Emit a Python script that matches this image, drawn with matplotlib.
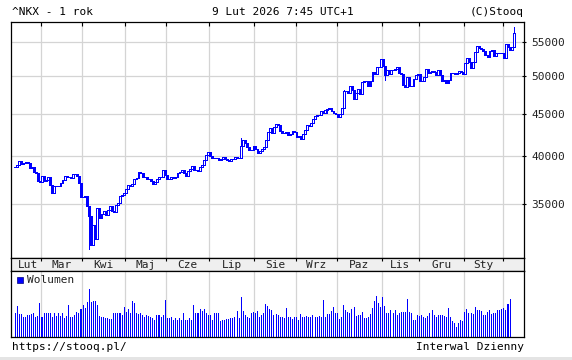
import matplotlib
matplotlib.use("Agg")
import matplotlib.pyplot as plt
from matplotlib.patches import Rectangle

# daily closes of ^NKX, one list per month
close_feb25 = [38801, 38963, 39461, 39149, 39174, 39270, 39164, 38678, 38776, 38237, 38142, 37256, 37155]
close_mar = [37785, 37331, 37418, 37705, 36887, 36028, 36793, 36819, 36790, 37053, 37397, 37846, 37752,
             37677, 37608, 38027, 38028, 37800, 37120, 35618]
close_apr = [35625, 35726, 34736, 33781, 31137, 33013, 31714, 34609, 33586, 33983, 34268, 33921, 34377,
             34730, 34280, 34221, 34869, 35040, 35706, 35840, 36046]
close_may = [36452, 36831, 36780, 36929, 37503, 37644, 38184, 38128, 37756, 37754, 37499, 37529, 37299,
             36986, 37160, 37532, 37724, 37722, 38433, 37965]
close_jun = [37471, 37447, 37747, 37555, 37742, 38089, 38212, 38421, 38174, 37834, 38311, 38537, 38885,
             38489, 38403, 38355, 38791, 38943, 39585, 40151, 40487]
close_jul = [39986, 39762, 39786, 39811, 39588, 39689, 39821, 39646, 39570, 39460, 39679, 39663, 39901,
             39819, 39775, 41171, 41826, 41456, 40998, 40675, 40655, 41070]
close_aug = [40800, 40291, 40549, 40795, 41059, 41820, 42718, 43275, 42650, 43378, 43714, 43547, 42889,
             42610, 42633, 42808, 42395, 42520, 42829, 42718]
close_sep = [42189, 42310, 41938, 42580, 43019, 43644, 43460, 43838, 44373, 44768, 44903, 44790, 45304,
             45046, 45494, 45630, 45755, 45355, 45044, 44933]
close_oct = [44550, 44937, 45770, 47945, 47951, 47735, 48580, 48089, 46848, 47672, 48277, 47582, 49186,
             49316, 49308, 48642, 49300, 50512, 50220, 51308, 51326, 52411]
close_nov = [51497, 50212, 50884, 50276, 50912, 50843, 51063, 51282, 50377, 50324, 48703, 48538, 49824,
             48626, 48660, 49560, 50167, 50254]
close_dec = [49303, 49303, 49865, 51028, 50492, 50582, 50655, 50603, 50149, 50837, 50168, 49383, 49512,
             49001, 49507, 50402, 50413, 50345, 50408, 50750, 50527, 50339]
close_jan = [51833, 52518, 51962, 51117, 51940, 53549, 54342, 54110, 53936, 53584, 52991, 52775, 53689,
             53847, 52885, 53333, 53358, 53376, 53323]
close_feb26 = [52655, 54721, 54294, 53818, 54254, 56364]

# a few long shadows visible on the chart (index -> price)
high_extra = {243: 57337, 110: 42065, 160: 48150}
low_extra = {36: 30792, 180: 49400, 38: 31150, 152: 45150}

# volume, bar heights
vol_feb25 = [24.6, 31.3, 23.3, 23.3, 20, 20, 22.3, 22.3, 23.3, 24, 20.6, 21.3, 34.6]
vol_mar = [20, 24, 24.6, 24.6, 24.6, 20, 24, 21.3, 24.6, 21.3, 24.6, 19, 21, 32.3, 20, 20, 22.3, 25.6, 24, 28]
vol_apr = [32.3, 29, 35.6, 48, 35.6, 36.6, 36.6, 32.3, 21.3, 20.6, 20.6, 19, 19, 18, 18, 24.6, 24.6, 24.6,
           24.6, 22.3, 30.6]
vol_may = [25.6, 28, 24, 36.3, 34, 24.6, 23.3, 24, 22.3, 20, 22.3, 21.3, 20, 19, 17.3, 22.3, 22.3, 20, 22, 37.3]
vol_jun = [19, 19, 20, 17.3, 19, 17.3, 19, 17.3, 24.6, 17.3, 17.3, 19, 17.3, 32.3, 24, 24, 28, 26, 28, 24, 22.3]
vol_jul = [22.3, 17.3, 24.6, 24.6, 24, 16.6, 17.3, 17.3, 18, 18, 19, 19, 20, 26, 19, 40, 26.6, 22.3, 20.6,
           19, 24, 25.6]
vol_aug = [24.6, 26.6, 20, 22, 24, 33.3, 31.3, 28, 27.3, 22.3, 23.3, 22.3, 20.6, 20.6, 19, 29, 20, 20.6, 18, 20]
vol_sep = [20, 17.3, 23.3, 20, 20.6, 21.3, 20.6, 20, 22.3, 20.6, 20, 21, 20, 37.3, 20, 23.3, 23.3, 26.6,
           30.6, 24.6]
vol_oct = [24, 18, 20, 32.3, 27.3, 25.6, 24.6, 28, 30.6, 21.3, 22.3, 22.3, 25.6, 19, 19, 20.6, 23.3, 29, 36,
           41.3, 34, 30]
vol_nov = [40.6, 31.3, 24.6, 24, 27.3, 24.6, 27.3, 22.3, 24.6, 25.6, 25.6, 25.6, 38, 25.6, 24, 17.3, 17.3, 22.3]
vol_dec = [21.3, 22.3, 20.6, 19, 21.3, 24, 27.3, 22.3, 20.6, 22.3, 22.3, 22.3, 21.6, 20.6, 29.6, 20.6, 16.3,
           14, 10.6, 14, 17.3, 16.3]
vol_jan = [25.6, 28, 24.3, 24.3, 23, 30.6, 27, 27.3, 26.3, 22.3, 22.3, 25, 27.3, 23.3, 24, 24, 27.3, 27.3, 28]
vol_feb26 = [29, 27, 33, 38.3]

month_labels = ["Lut", "Mar", "Kwi", "Maj", "Cze", "Lip", "Sie", "Wrz", "Paz", "Lis", "Gru", "Sty"]
price_ticks = [35000, 40000, 45000, 50000, 55000]

closes = (close_feb25 + close_mar + close_apr + close_may + close_jun + close_jul + close_aug
          + close_sep + close_oct + close_nov + close_dec + close_jan + close_feb26)
volume = (vol_feb25 + vol_mar + vol_apr + vol_may + vol_jun + vol_jul + vol_aug + vol_sep
          + vol_oct + vol_nov + vol_dec + vol_jan + vol_feb26)
month_lists = [close_feb25, close_mar, close_apr, close_may, close_jun, close_jul, close_aug,
               close_sep, close_oct, close_nov, close_dec, close_jan, close_feb26]

# month boundaries in trading-day index
starts = []
n = 0
for m in month_lists:
    starts.append(n)
    n += len(m)
bounds = [s - 0.5 for s in starts[1:]]
label_pos = [starts[k] + (len(month_lists[k]) - 1) / 2 for k in range(len(month_labels))]

opens = [closes[0]] + closes[:-1]
x = list(range(len(closes)))
lows = [low_extra.get(i, min(o, c)) for i, (o, c) in enumerate(zip(opens, closes))]
highs = [high_extra.get(i, max(o, c)) for i, (o, c) in enumerate(zip(opens, closes))]

BLUE = "#0000ff"
GRID = "#d4d4d4"
FONT = "DejaVu Sans Mono"
W, H = 572, 360
plt.rcParams["font.family"] = FONT

fig = plt.figure(figsize=(W / 100, H / 100), dpi=100)
L, R = 11, 524


def box(top, bottom):
    return [L / W, 1 - bottom / H, (R - L) / W, (bottom - top) / H]


ax = fig.add_axes(box(22, 257.7))
band = fig.add_axes(box(257.7, 270.7))
axv = fig.add_axes(box(270.7, 337.3))

xlim = (-2.1, 247.8)

# price panel
ax.set_yscale("log")
ax.set_ylim(30090, 58160)
ax.set_xlim(*xlim)
for b in bounds:
    ax.axvline(b, color=GRID, lw=0.9, zorder=0)
for p in price_ticks:
    ax.axhline(p, color=GRID, lw=0.9, zorder=0)

ax.vlines(x, lows, highs, color=BLUE, lw=0.7, zorder=2, antialiased=False)
up = [i for i in x if closes[i] >= opens[i]]
dn = [i for i in x if closes[i] < opens[i]]
ax.bar(up, [max(closes[i] - opens[i], 1) for i in up], bottom=[opens[i] for i in up],
       width=0.9, facecolor="white", edgecolor=BLUE, lw=0.7, zorder=3, antialiased=False)
ax.bar(dn, [opens[i] - closes[i] for i in dn], bottom=[closes[i] for i in dn],
       width=0.9, facecolor=BLUE, edgecolor=BLUE, lw=0.7, zorder=3, antialiased=False)

ax.yaxis.tick_right()
ax.set_yticks(price_ticks)
ax.set_yticklabels([str(p) for p in price_ticks])
ax.yaxis.set_minor_locator(matplotlib.ticker.NullLocator())
ax.tick_params(axis="y", direction="inout", length=3, width=0.8, pad=4, labelsize=8, labelcolor="#222")
ax.set_xticks(bounds)
ax.tick_params(axis="x", top=True, bottom=False, direction="in", length=3, width=0.8, labelbottom=False)

# month label band
band.set_facecolor("#efefef")
band.set_xlim(*xlim)
band.set_ylim(0, 1)
band.set_yticks([])
band.set_xticks(bounds)
band.tick_params(axis="x", top=True, bottom=False, direction="in", length=2.5, width=0.8, labelbottom=False)
for lab, pos in zip(month_labels, label_pos):
    band.text(pos, 0.45, lab, ha="center", va="center", fontsize=8, color="#222")

# volume panel
axv.set_xlim(*xlim)
axv.set_ylim(0, 66.6)
for b in bounds:
    axv.axvline(b, color=GRID, lw=0.9, zorder=0)
axv.bar(range(len(volume)), volume, width=0.5, color=BLUE, zorder=2, antialiased=False)
axv.set_xticks([])
axv.set_yticks([])
axv.add_patch(Rectangle((0.012, 0.815), 0.011, 0.09, transform=axv.transAxes,
                        facecolor=BLUE, edgecolor="#000080", lw=0.5))
axv.text(0.031, 0.86, "Wolumen", transform=axv.transAxes, va="center", fontsize=8, color="#222")

for a in (ax, band, axv):
    for s in a.spines.values():
        s.set_linewidth(0.9)
        s.set_color("black")

fig.text(12 / W, 1 - 12 / H, "^NKX - 1 rok", fontsize=8, va="center", ha="left")
fig.text(283 / W, 1 - 12 / H, "9 Lut 2026 7:45 UTC+1", fontsize=8, va="center", ha="center")
fig.text(R / W, 1 - 12 / H, "(C)Stooq", fontsize=8, va="center", ha="right")
fig.text(12 / W, 1 - 347.5 / H, "https://stooq.pl/", fontsize=8, va="center", ha="left")
fig.text(R / W, 1 - 347.5 / H, "Interwal Dzienny", fontsize=8, va="center", ha="right")
fig.patches.append(Rectangle((0, 0), 1, 3.5 / H, transform=fig.transFigure, facecolor="#e4e4e4",
                             edgecolor="none"))

fig.savefig("out.png", dpi=100)
